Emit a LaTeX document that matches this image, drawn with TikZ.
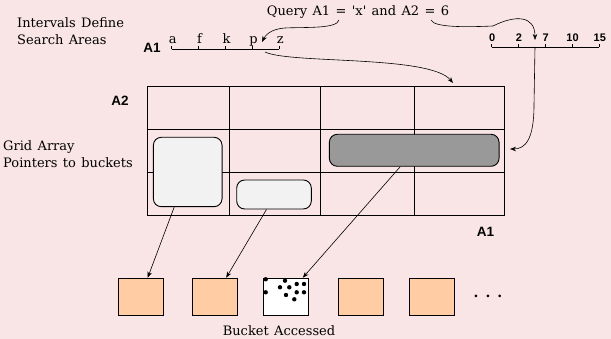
\documentclass[tikz,border=0pt]{standalone}
\usepackage{fontspec}
\setmainfont{DejaVu Serif}[WordSpace=1.3]
\setsansfont{Liberation Sans}
\usetikzlibrary{arrows.meta}
\definecolor{bgpink}{RGB}{249,229,230}
\definecolor{peach}{RGB}{255,204,164}
\definecolor{boxgray}{RGB}{153,153,153}
\definecolor{boxlight}{RGB}{242,242,242}
\tikzset{
  lbl/.style={font=\fontsize{13}{16.5}\selectfont, inner sep=0pt},
  axlbl/.style={font=\sffamily\bfseries\fontsize{13.5}{14}\selectfont, inner sep=0pt},
  numlbl/.style={font=\sffamily\bfseries\fontsize{11}{12}\selectfont, inner sep=0pt},
  bucket/.style={draw, line width=0.9pt, fill=peach, minimum width=45pt, minimum height=37.7pt, inner sep=0pt},
  region/.style={draw, line width=0.9pt, rounded corners=8pt, inner sep=0pt},
  ptr/.style={->, line width=0.6pt},
}
\begin{document}
\begin{tikzpicture}[x=1pt,y=-1pt,>={Stealth[length=6pt,width=4.5pt]}]
                    \fill[bgpink] (0,0) rectangle (611,339);
                    \useasboundingbox (0,0) rectangle (611,339);
                    % grid array
                    \foreach \x in {147,229.3,320.7,414.3,504.7}
                      \draw[line width=0.9pt] (\x,86) -- (\x,215.7);
                    \foreach \y in {86,129,172.7,215.7}
                      \draw[line width=0.9pt] (147,\y) -- (504.7,\y);
                    \node[region, fill=boxlight, minimum width=68.7pt, minimum height=69.4pt] (box1) at (187.7,172) {};
                    \node[region, fill=boxlight, minimum width=74.6pt, minimum height=29pt] (box2) at (274,194.5) {};
                    \node[region, fill=boxgray, minimum width=169.7pt, minimum height=32pt] (box3) at (414.2,150.3) {};
                    % buckets
                    \foreach \n/\x in {1/140.7,2/215.2,3/285.8,4/360.7,5/431.7}
                      \node[bucket] (b\n) at (\x,297) {};
                    \node[bucket, fill=white] at (b3) {};
                    \foreach \x/\y in {265.7/279.3,265.7/292.3,285/280.7,280/287.3,289.3/287.3,296.7/284,304/284,286/295,296.7/292.3,304/292.3,294.3/299.3}
                      \fill (\x,\y) circle (2.2pt);
                    \node[lbl, font=\bfseries\fontsize{14}{14}\selectfont] (more) at (488,296) {.\hspace{7pt}.\hspace{7pt}.};
                    \draw[ptr] ([xshift=-13.5pt]box1.south) -- ([xshift=7pt]b1.north);
                    \draw[ptr] ([xshift=-7.5pt]box2.south) -- ([xshift=11pt]b2.north);
                    \draw[ptr] ([xshift=-14pt]box3.south) -- ([xshift=17pt]b3.north);
                    % interval axes
                    \draw[line width=0.7pt] (171.7,49) -- (279.3,49);
                    \foreach \x/\l in {171.7/a,198.5/f,225.5/k,252.5/p,279.3/z} {
                      \draw[line width=0.7pt] (\x,49) -- (\x,46);
                      \node[lbl, anchor=base] at (\x+1,44) {\l};
                    }
                    \draw[line width=0.7pt] (491.7,47) -- (599.3,47);
                    \foreach \x/\l in {491.7/0,518.5/2,545.3/7,572/10,599.3/15} {
                      \draw[line width=0.7pt] (\x,47) -- (\x,44);
                      \node[numlbl, anchor=base] at (\x+0.5,41.5) {\l};
                    }
                    \node[axlbl] (a1top) at (152,47.5) {A1};
                    \node[axlbl] (a2lbl) at (120,101) {A2};
                    \node[axlbl] (a1lbl) at (485.5,232) {A1};
                    % texts
                    \node[lbl, anchor=base] (query) at (358,16) {Query A1 = \textquotesingle x\textquotesingle\ and A2 = 6};
                    \node[lbl, anchor=west, align=left] (intv) at (17,31) {Intervals Define\\Search Areas};
                    \node[lbl, anchor=west, align=left] (gridtxt) at (3,154) {Grid Array\\Pointers to buckets};
                    \node[lbl, anchor=base] (acc) at (279,336) {Bucket Accessed};
                    % query arrows
                    \coordinate (eqA) at (339,20);
                    \coordinate (eqB) at (431,20);
                    \coordinate (pA) at (262,42);
                    \coordinate (vA2) at (535,40);
                    \coordinate (xA1) at (265,52);
                    \coordinate (gtop) at (453,83);
                    \coordinate (xA2) at (535,47);
                    \coordinate (rowin) at (510,149);
                    \draw[ptr] (eqA) .. controls (337,29) and (305,27) .. (285,28) .. controls (270,29) and (265,36) .. (pA);
                    \draw[ptr] (eqB) .. controls (434,28) and (470,27) .. (493,26) .. controls (515,15) and (535,15) .. (vA2);
                    \draw[ptr] (xA1) .. controls (290,64) and (430,55) .. (gtop);
                    \draw[ptr] (xA2) -- (534,105) .. controls (534,140) and (525,149) .. (rowin);
                \end{tikzpicture}
\end{document}
